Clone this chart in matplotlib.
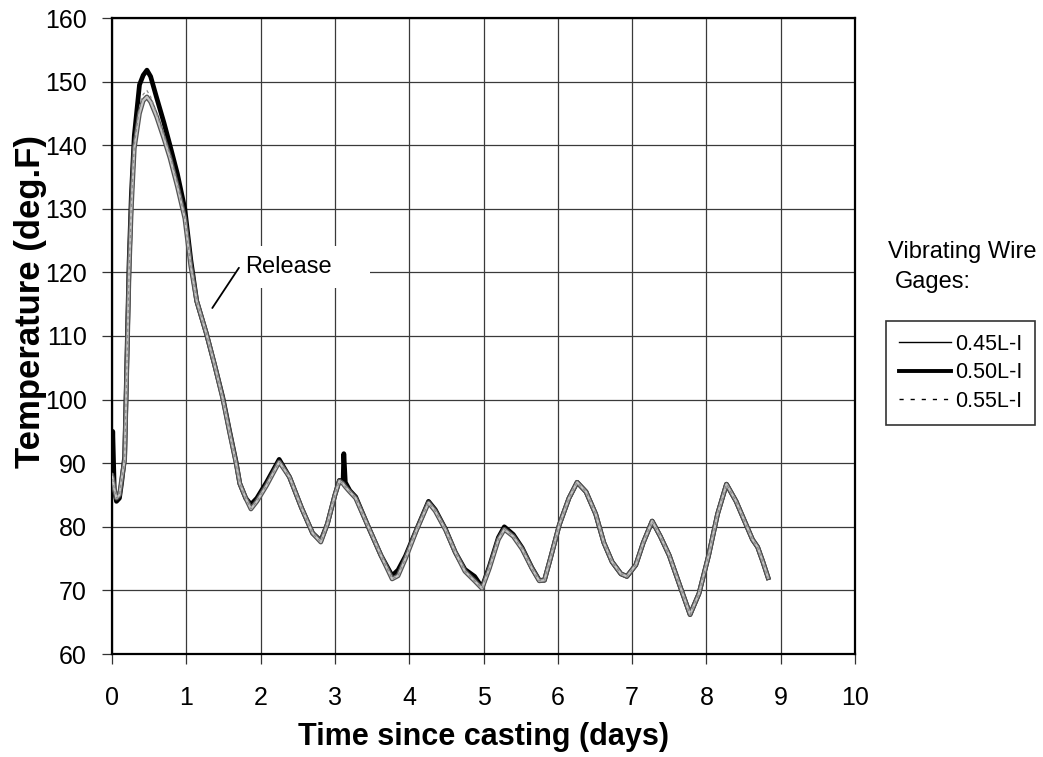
import matplotlib
matplotlib.use("Agg")
import matplotlib.pyplot as plt
from matplotlib.lines import Line2D
from matplotlib.patches import Rectangle
import matplotlib.patheffects as pe

plt.rcParams['font.family'] = ['Liberation Sans', 'DejaVu Sans']

# Time since casting (days), shared by all gages
days = [0.00, 0.01, 0.03, 0.06, 0.10, 0.13, 0.17, 0.19, 0.21, 0.23,
        0.26, 0.30, 0.37, 0.42, 0.47, 0.52, 0.60, 0.70, 0.78, 0.88,
        0.98, 1.06, 1.14, 1.27, 1.38, 1.49, 1.58, 1.67, 1.72, 1.80,
        1.87, 1.95, 2.08, 2.25, 2.39, 2.55, 2.70, 2.81, 2.90, 3.00,
        3.06, 3.11, 3.12, 3.14, 3.20, 3.28, 3.45, 3.62, 3.77, 3.85,
        3.95, 4.10, 4.26, 4.35, 4.49, 4.62, 4.75, 4.88, 4.98, 5.08,
        5.20, 5.28, 5.40, 5.52, 5.65, 5.75, 5.82, 5.90, 6.02, 6.15,
        6.26, 6.38, 6.51, 6.62, 6.73, 6.85, 6.93, 7.05, 7.15, 7.27,
        7.38, 7.50, 7.65, 7.78, 7.90, 8.03, 8.15, 8.27, 8.40, 8.51,
        8.62, 8.69, 8.76, 8.83]

# Temperatures (deg.F) for each vibrating wire gage
temp_045 = [88.0, 87.5, 86.0, 84.5, 85.0, 87.5, 90.5, 100.0, 110.0, 120.0,
            130.0, 139.5, 145.0, 147.0, 147.6, 146.8, 144.5, 141.0, 138.0, 133.5,
            128.5, 121.0, 115.5, 110.4, 105.5, 100.2, 95.0, 90.0, 86.8, 84.5,
            82.8, 84.0, 86.5, 90.2, 87.8, 83.0, 79.0, 77.6, 80.5, 85.0,
            87.2, 86.8, 86.6, 86.3, 85.5, 84.5, 80.0, 75.5, 71.8, 72.3,
            75.0, 79.5, 83.8, 82.5, 79.5, 76.0, 73.0, 71.5, 70.3, 73.5,
            78.0, 79.6, 78.5, 76.5, 73.5, 71.5, 71.6, 75.0, 80.3, 84.5,
            87.0, 85.5, 82.0, 77.5, 74.5, 72.6, 72.2, 74.0, 77.5, 80.9,
            78.5, 75.5, 70.5, 66.2, 69.5, 75.5, 82.0, 86.7, 84.0, 81.0,
            78.0, 76.8, 74.5, 72.0]

temp_050 = [89.0, 95.0, 86.0, 84.0, 84.5, 87.0, 91.0, 101.0, 111.5, 121.5,
            132.0, 141.5, 149.5, 151.0, 151.8, 150.8, 147.5, 143.5, 140.0, 135.5,
            130.0, 122.0, 115.5, 110.4, 105.5, 100.4, 95.2, 90.2, 86.8, 84.5,
            83.5, 84.5, 87.0, 90.6, 87.8, 83.0, 79.0, 77.8, 80.5, 85.0,
            87.3, 87.0, 91.5, 87.0, 85.7, 84.7, 80.0, 75.5, 72.3, 73.2,
            75.4, 79.6, 84.0, 82.7, 79.6, 76.0, 73.3, 72.2, 70.5, 73.8,
            78.3, 80.0, 78.8, 76.7, 73.6, 71.6, 71.6, 75.0, 80.3, 84.5,
            87.0, 85.5, 82.0, 77.5, 74.5, 72.6, 72.2, 74.0, 77.5, 80.9,
            78.5, 75.5, 70.5, 66.2, 69.5, 75.5, 82.0, 86.7, 84.0, 81.0,
            78.0, 76.8, 74.5, 72.0]

temp_055 = [88.5, 87.5, 86.0, 84.5, 85.0, 87.5, 90.5, 100.0, 110.0, 120.0,
            130.5, 140.0, 146.0, 148.0, 148.6, 147.6, 145.0, 141.5, 138.5, 134.0,
            128.5, 121.0, 115.5, 110.4, 105.5, 100.2, 95.0, 90.0, 86.8, 84.5,
            82.8, 84.0, 86.5, 90.2, 87.8, 83.0, 79.0, 77.6, 80.5, 85.0,
            87.2, 86.8, 86.6, 86.3, 85.5, 84.5, 80.0, 75.5, 71.8, 72.3,
            75.0, 79.5, 83.8, 82.5, 79.5, 76.0, 73.0, 71.5, 70.3, 73.5,
            78.0, 79.6, 78.5, 76.5, 73.5, 71.5, 71.6, 75.0, 80.3, 84.5,
            87.0, 85.5, 82.0, 77.5, 74.5, 72.6, 72.2, 74.0, 77.5, 80.9,
            78.5, 75.5, 70.5, 66.2, 69.5, 75.5, 82.0, 86.7, 84.0, 81.0,
            78.0, 76.8, 74.5, 72.0]

gage_labels = ['0.45L-I', '0.50L-I', '0.55L-I']
x_ticks = list(range(0, 11))
y_ticks = list(range(60, 161, 10))

W, H = 1043, 757
fig = plt.figure(figsize=(W / 100, H / 100), dpi=100)
ax = fig.add_axes([112 / W, 1 - 654 / H, (855 - 112) / W, (654 - 18) / H])

ax.set_xlim(0, 10)
ax.set_ylim(60, 160)
ax.set_xticks(x_ticks)
ax.set_yticks(y_ticks)
ax.grid(True, color='#3a3a3a', linewidth=0.9, zorder=0)
ax.set_axisbelow(True)
for s in ax.spines.values():
    s.set_linewidth(1.6)
    s.set_color('black')
ax.tick_params(axis='both', direction='out', length=7, width=0.9,
               labelsize=18, color='#333333')
ax.tick_params(axis='x', pad=16)
ax.tick_params(axis='y', pad=11)

# gage traces
ax.plot(days, temp_050, color='black', linewidth=3.4, zorder=3,
        solid_joinstyle='round')
ax.plot(days, temp_045, color='#c4c4c4', linewidth=1.6, zorder=4,
        solid_joinstyle='round',
        path_effects=[pe.Stroke(linewidth=3.4, foreground='#555555'), pe.Normal()])
ax.plot(days, temp_055, color='#8c8c8c', linewidth=0.9, zorder=5,
        dashes=(2.5, 2.5))

# label for prestress release
ax.add_patch(Rectangle((1.655, 117.5), 1.82, 6.6, facecolor='white',
                       edgecolor='none', zorder=1))
ax.annotate('Release', xy=(1.35, 114.4), xytext=(1.79, 120.9),
            fontsize=17, ha='left', va='center', zorder=6,
            arrowprops=dict(arrowstyle='-', color='black', lw=1.3,
                            shrinkA=0, shrinkB=0, relpos=(-0.07, 0.45)))

ax.set_xlabel('Time since casting (days)', fontsize=22, fontweight='bold',
              labelpad=9)
ax.set_ylabel('Temperature (deg.F)', fontsize=25, fontweight='bold')
ax.yaxis.set_label_coords(-0.088, 0.555)

# legend with its heading
fig.text(888 / W, 1 - 252 / H, 'Vibrating Wire', fontsize=17,
         ha='left', va='center')
fig.text(895 / W, 1 - 282 / H, 'Gages:', fontsize=17, ha='left', va='center')
handles = [Line2D([], [], color='black', linewidth=1.0),
           Line2D([], [], color='black', linewidth=2.8),
           Line2D([], [], color='black', linewidth=1.0, dashes=(3, 5))]
leg = fig.legend(handles, gage_labels, loc='upper left',
                 bbox_to_anchor=(886 / W, 1 - 321 / H),
                 bbox_transform=fig.transFigure, fontsize=15.5, frameon=True,
                 fancybox=False, edgecolor='black', handlelength=2.4,
                 handletextpad=0.2, labelspacing=0.35, borderpad=0.6,
                 borderaxespad=0)
leg.get_frame().set_linewidth(1.2)

fig.savefig('out.png', dpi=100)
